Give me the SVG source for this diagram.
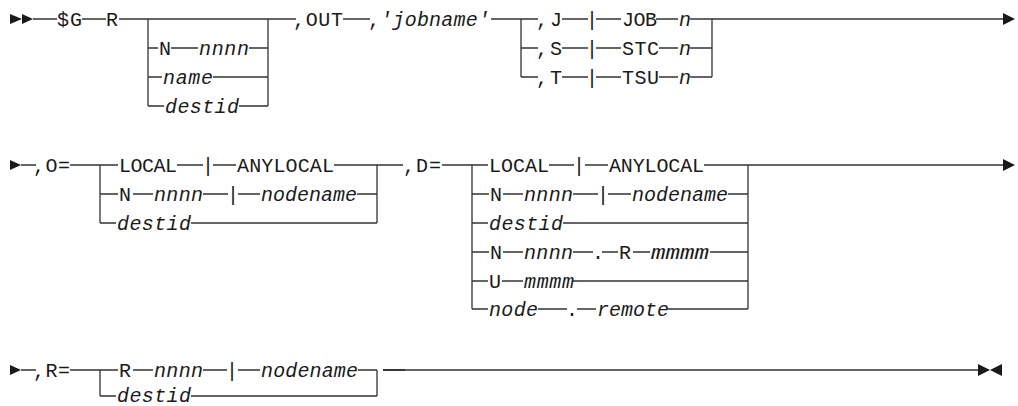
<svg xmlns="http://www.w3.org/2000/svg" width="1018" height="406" viewBox="0 0 1018 406">
<style>
.t{font-family:"Liberation Mono","DejaVu Sans Mono",monospace;font-size:20px;fill:#1a1a1a}
.i{font-style:italic}
.c{stroke:#333;stroke-width:1.3;fill:none}
.a{fill:#1a1a1a}
</style>
<rect width="1018" height="406" fill="#fff"/>
<g id="connectors">
<path class="c" d="M33 19H57M82 19H106M119 19H296M343 19H370M491 19H538M562 19H588M596 19H621M656 19H678M690 19H1003
M148 19V106M148 48H158M171 48H198M249 48H268M148 77H162M213 77H268M148 106H164M239 106H268M268 19V106
M521 19V77M521 48H538M521 77H538M562 48H588M562 77H588M596 48H621M596 77H621M659 48H678M659 77H678M690 48H712M690 77H712M712 19V77"/>
<path class="c" d="M21 165H36M70 165H118M177 165H203M213 165H236M334 165H403M100 165V223
M100 194H118M133 194H153M203 194H228M238 194H260M357 194H377M100 223H116M191 223H377M377 165V223
M442 165H488M472 165V309M549 165H574M585 165H608M704 165H1003M748 165V309
M472 194H489M503 194H523M573 194H598M608 194H631M728 194H748
M472 223H488M563 223H748
M472 252H489M503 252H523M573 252H593M602 252H618M633 252H650M710 252H748
M472 281H488M502 281H523M573 281H748
M472 309H488M538 309H567M577 309H596M668 309H748"/>
<path class="c" d="M21 370H36M70 370H118M100 370V396M133 370H153M203 370H227M238 370H260M358 370H377M377 370V396M100 396H116M191 396H377M383 370H978"/>
<path class="c" style="stroke-width:1.8" d="M383 370H405"/>
<polygon class="a" points="10,14 22,19 10,24"/>
<polygon class="a" points="22,14 33,19 22,24"/>
<polygon class="a" points="1003,13 1015,19 1003,25"/>
<polygon class="a" points="10,160 21,165 10,170"/>
<polygon class="a" points="1003,159 1015,165 1003,171"/>
<polygon class="a" points="10,365 21,370 10,375"/>
<polygon class="a" points="978,364 990,370 978,376"/>
<polygon class="a" points="1002,364 990,370 1002,376"/>
</g>
<g id="n-sg"><text class="t" x="57" y="26" textLength="25">$G</text></g>
<g id="n-r"><text class="t" x="106" y="26">R</text></g>
<g id="n-opt-n"><text class="t" x="159" y="55">N</text><text class="t i" x="199" y="55" textLength="50">nnnn</text></g>
<g id="n-opt-name"><text class="t i" x="163" y="84" textLength="50">name</text></g>
<g id="n-opt-destid"><text class="t i" x="165" y="113" textLength="74">destid</text></g>
<g id="n-out"><text class="t" x="293" y="26" textLength="50">,OUT</text></g>
<g id="n-jobname"><text class="t" x="368" y="26" textLength="122">,<tspan class="i">'jobname'</tspan></text></g>
<g id="n-j"><text class="t" x="536" y="26" textLength="26">,J</text><text class="t" x="586" y="26">|</text><text class="t" x="622" y="26" textLength="35">JOB</text><text class="t i" x="679" y="26">n</text></g>
<g id="n-s"><text class="t" x="536" y="55" textLength="26">,S</text><text class="t" x="586" y="55">|</text><text class="t" x="622" y="55" textLength="37">STC</text><text class="t i" x="679" y="55">n</text></g>
<g id="n-t"><text class="t" x="536" y="84" textLength="26">,T</text><text class="t" x="586" y="84">|</text><text class="t" x="622" y="84" textLength="37">TSU</text><text class="t i" x="679" y="84">n</text></g>
<g id="n-o"><text class="t" x="33" y="172" textLength="37">,O=</text></g>
<g id="n-o-local"><text class="t" x="119" y="172" textLength="58">LOCAL</text><text class="t" x="202" y="172">|</text><text class="t" x="237" y="172" textLength="97">ANYLOCAL</text></g>
<g id="n-o-node"><text class="t" x="119" y="201">N</text><text class="t i" x="154" y="201" textLength="49">nnnn</text><text class="t" x="227" y="201">|</text><text class="t i" x="261" y="201" textLength="96">nodename</text></g>
<g id="n-o-destid"><text class="t i" x="117" y="230" textLength="74">destid</text></g>
<g id="n-d"><text class="t" x="403" y="172" textLength="38">,D=</text></g>
<g id="n-d-local"><text class="t" x="489" y="172" textLength="60">LOCAL</text><text class="t" x="573" y="172">|</text><text class="t" x="609" y="172" textLength="95">ANYLOCAL</text></g>
<g id="n-d-node"><text class="t" x="490" y="201">N</text><text class="t i" x="524" y="201" textLength="49">nnnn</text><text class="t" x="597" y="201">|</text><text class="t i" x="632" y="201" textLength="96">nodename</text></g>
<g id="n-d-destid"><text class="t i" x="489" y="230" textLength="74">destid</text></g>
<g id="n-d-nr"><text class="t" x="490" y="259">N</text><text class="t i" x="524" y="259" textLength="49">nnnn</text><text class="t" x="592" y="259">.</text><text class="t" x="619" y="259">R</text><text class="t i" x="651" y="259" textLength="58" lengthAdjust="spacingAndGlyphs">mmmm</text></g>
<g id="n-d-u"><text class="t" x="489" y="288">U</text><text class="t i" x="524" y="288" textLength="50">mmmm</text></g>
<g id="n-d-node-remote"><text class="t i" x="489" y="316" textLength="49">node</text><text class="t" x="566" y="316">.</text><text class="t i" x="597" y="316" textLength="72">remote</text></g>
<g id="n-r3"><text class="t" x="33" y="377" textLength="37">,R=</text></g>
<g id="n-r3-node"><text class="t" x="119" y="377">R</text><text class="t i" x="154" y="377" textLength="49">nnnn</text><text class="t" x="226" y="377">|</text><text class="t i" x="261" y="377" textLength="97">nodename</text></g>
<g id="n-r3-destid"><text class="t i" x="117" y="402" textLength="74">destid</text></g>
</svg>
